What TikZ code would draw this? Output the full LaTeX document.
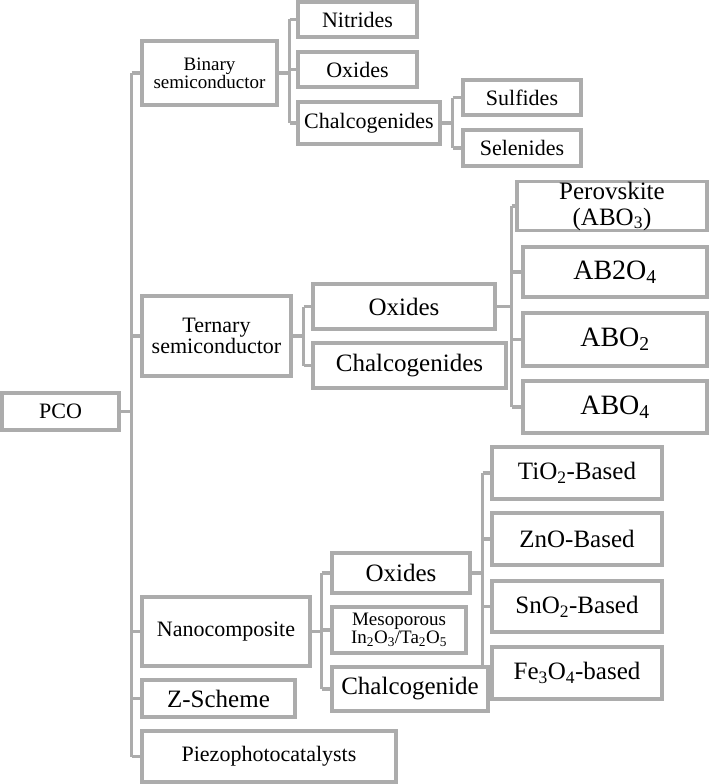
\documentclass[tikz,border=0pt]{standalone}
\usepackage{fontspec}
\setmainfont{Liberation Serif}
\usetikzlibrary{backgrounds}

\definecolor{linegray}{RGB}{172,172,172}

\begin{document}
\begin{tikzpicture}[
  x=1pt, y=-1pt,
  box/.style={draw=linegray, line width=3.2pt, fill=white, inner sep=0pt,
              align=center, font=\fontsize{22}{21}\selectfont},
  small/.style={font=\fontsize{19}{18}\selectfont},
  big/.style={font=\fontsize{25}{26}\selectfont},
  huge/.style={font=\fontsize{28}{28}\selectfont},
  link/.style={draw=linegray, line width=3.2pt},
]
\useasboundingbox (0,0) rectangle (709,784);

\node[box, minimum width=117, minimum height=37] (pco) at (60.5,411.5) {PCO};

% first level
\node[box, small, minimum width=135, minimum height=64] (bin) at (209.5,73) {Binary\\semiconductor};
\node[box, minimum width=149, minimum height=80] (ter) at (216.5,336) {Ternary\\semiconductor};
\node[box, minimum width=168, minimum height=69] (nano) at (226,631.5) {Nanocomposite};
\node[box, big, minimum width=153, minimum height=37] (zs) at (218.5,698.5) {Z-Scheme};
\node[box, minimum width=254, minimum height=51] (piezo) at (269,756.5) {Piezophotocatalysts};

% binary branch
\node[box, minimum width=119, minimum height=35] (nit) at (357.5,19.5) {Nitrides};
\node[box, minimum width=119, minimum height=35] (oxb) at (357.5,69.5) {Oxides};
\node[box, minimum width=142, minimum height=42] (chb) at (369,123) {Chalcogenides};
\node[box, minimum width=118, minimum height=35] (sul) at (522,97.5) {Sulfides};
\node[box, minimum width=118, minimum height=36] (sel) at (522,148) {Selenides};

% ternary branch
\node[box, big, minimum width=182, minimum height=45] (oxt) at (404,306.5) {Oxides};
\node[box, big, minimum width=193, minimum height=45] (cht) at (409.5,365.5) {Chalcogenides};
\node[box, big, minimum width=190, minimum height=48] (per) at (612,206) {Perovskite\\(ABO\textsubscript{3})};
\node[box, huge, minimum width=184, minimum height=50] (abtwo) at (615,272) {AB2O\textsubscript{4}};
\node[box, huge, minimum width=184, minimum height=53] (abotwo) at (615,339.5) {ABO\textsubscript{2}};
\node[box, huge, minimum width=184, minimum height=52] (abofour) at (615,407) {ABO\textsubscript{4}};

% nanocomposite branch
\node[box, big, minimum width=138, minimum height=40] (oxn) at (401,573) {Oxides};
\node[box, small, minimum width=134, minimum height=46] (meso) at (399,630) {Mesoporous\\In\textsubscript{2}O\textsubscript{3}/Ta\textsubscript{2}O\textsubscript{5}};
\node[box, big, minimum width=156, minimum height=44] (chn) at (410,689) {Chalcogenide};
\node[box, big, minimum width=170, minimum height=52] (tio) at (577,473) {TiO\textsubscript{2}-Based};
\node[box, big, minimum width=170, minimum height=52] (zno) at (577,539) {ZnO-Based};
\node[box, big, minimum width=170, minimum height=51] (sno) at (577,606.5) {SnO\textsubscript{2}-Based};
\node[box, big, minimum width=170, minimum height=52] (fe) at (577,673) {Fe\textsubscript{3}O\textsubscript{4}-based};

\begin{scope}[on background layer]
% trunk
\draw[link] (pco.east) -- ++(11,0) coordinate (trunk);
\draw[link] (bin.west -| trunk) -- (piezo.west -| trunk);
\foreach \n in {bin,ter,nano,zs,piezo}
  \draw[link] (\n.west -| trunk) -- (\n.west);

\draw[link] (bin.east) -- ++(11,0) coordinate (fbin);
\draw[link] (nit.west -| fbin) -- (chb.west -| fbin);
\foreach \n in {nit,oxb,chb}
  \draw[link] (\n.west -| fbin) -- (\n.west);

\draw[link] (chb.east) -- ++(11,0) coordinate (fchb);
\draw[link] (sul.west -| fchb) -- (sel.west -| fchb);
\foreach \n in {sul,sel}
  \draw[link] (\n.west -| fchb) -- (\n.west);

\draw[link] (ter.east) -- ++(11,0) coordinate (fter);
\draw[link] (oxt.west -| fter) -- (cht.west -| fter);
\foreach \n in {oxt,cht}
  \draw[link] (\n.west -| fter) -- (\n.west);

\draw[link] (oxt.east) -- ++(15,0) coordinate (foxt);
\draw[link] (per.west -| foxt) -- (abofour.west -| foxt);
\foreach \n in {per,abtwo,abotwo,abofour}
  \draw[link] (\n.west -| foxt) -- (\n.west);

\draw[link] (nano.east) -- ++(10,0) coordinate (fnano);
\draw[link] (oxn.west -| fnano) -- (chn.west -| fnano);
\foreach \n in {oxn,meso,chn}
  \draw[link] (\n.west -| fnano) -- (\n.west);

\draw[link] (oxn.east) -- ++(11,0) coordinate (foxn);
\draw[link] (tio.west -| foxn) -- (fe.west -| foxn);
\foreach \n in {tio,zno,sno,fe}
  \draw[link] (\n.west -| foxn) -- (\n.west);
\end{scope}
\end{tikzpicture}
\end{document}
